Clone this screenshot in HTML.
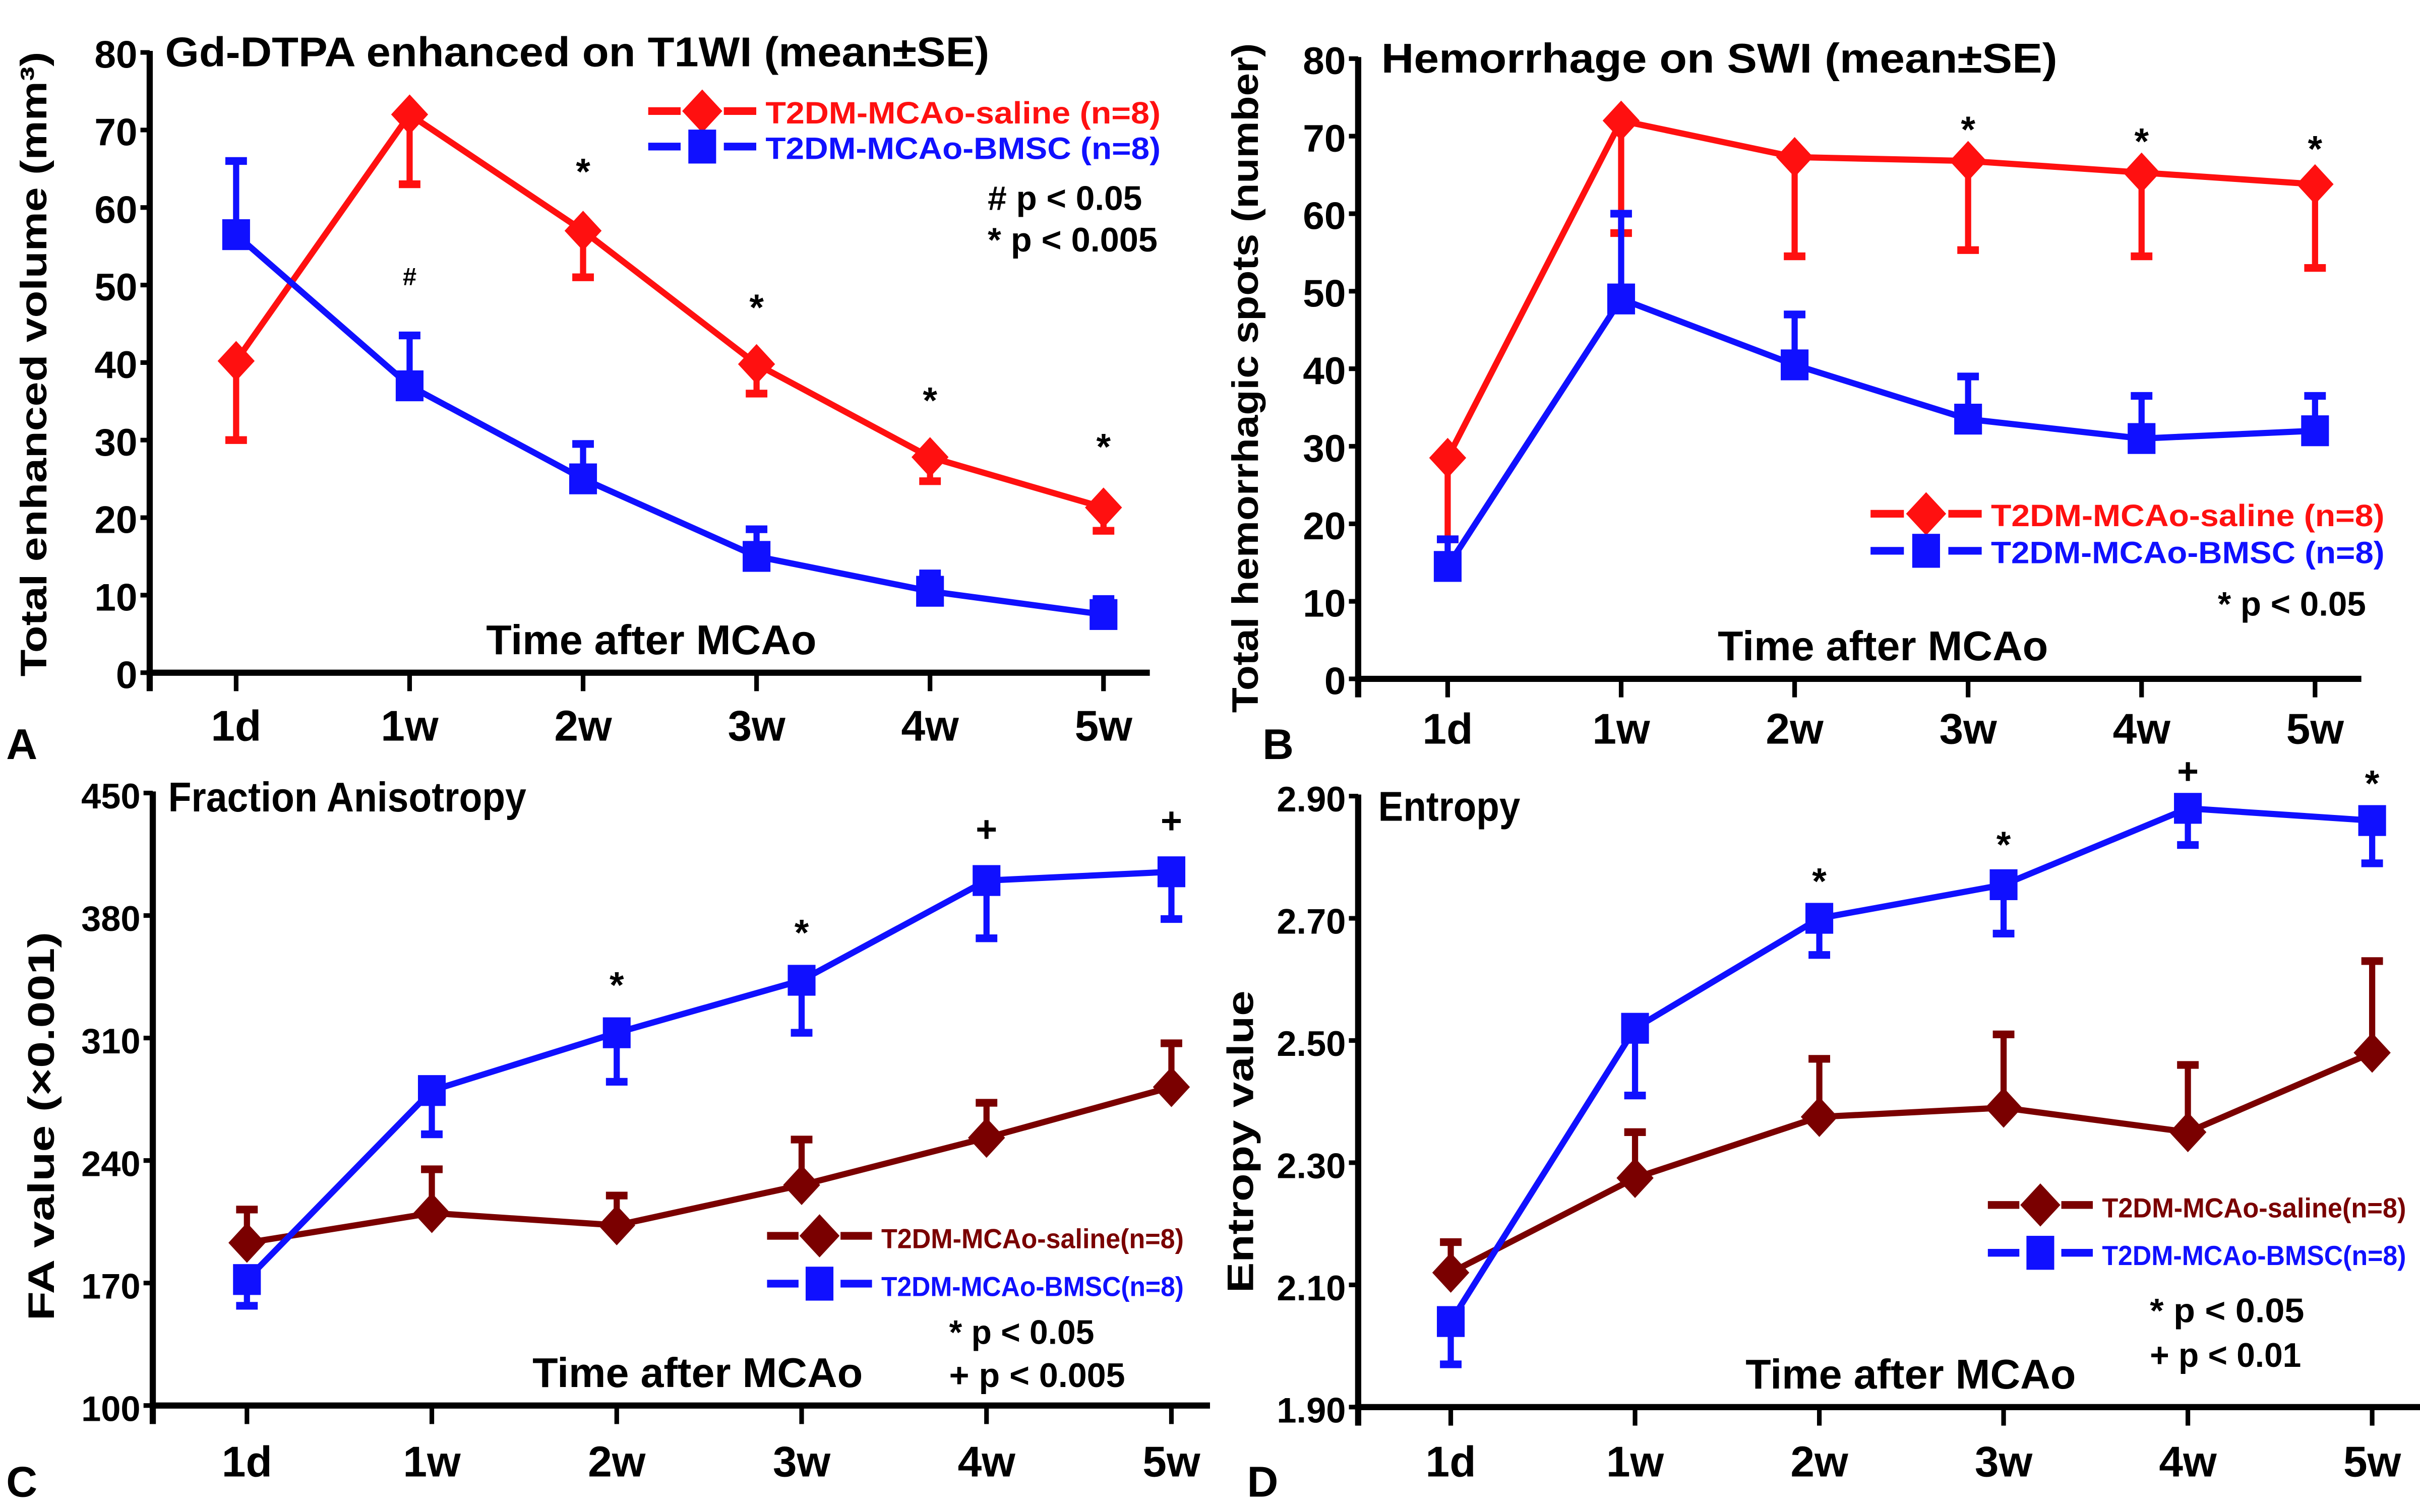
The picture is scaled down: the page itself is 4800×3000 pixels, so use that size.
<!DOCTYPE html>
<html><head><meta charset="utf-8"><style>
html,body{margin:0;padding:0;background:#fff}
svg{display:block}
text{font-family:"Liberation Sans Narrow","Liberation Sans",sans-serif;font-weight:bold}
.w{font-family:"Liberation Sans",sans-serif;font-weight:bold}
</style></head><body>
<svg id="fig" width="4800" height="3000" viewBox="0 0 1568 980" xmlns="http://www.w3.org/2000/svg">
<rect width="1568" height="980" fill="#fff"/>
</svg>
<script>
// ---- data ----
const categories = ["1d","1w","2w","3w","4w","5w"];
// Panel A
const aSaline = [40.2,72,57,39.8,27.8,21.3];
const aSalineErr = [10.2,9,6,3.8,3.1,3];
const aBmsc = [56.5,37,25,15,10.5,7.5];
const aBmscErr = [9.5,6.5,4.5,3.5,2.3,2];
const aTicks = [0,10,20,30,40,50,60,70,80];
const aMarks = ["","#","*","*","*","*"];
// Panel B
const bSaline = [28.5,72,67.3,66.8,65.3,63.8];
const bSalineErr = [10.5,14.5,12.8,11.5,10.8,10.8];
const bBmsc = [14.5,49,40.5,33.5,31,32];
const bBmscErr = [3.5,11,6.5,5.5,5.5,4.5];
const bTicks = [0,10,20,30,40,50,60,70,80];
const bMarks = ["","","","*","*","*"];
// Panel C
const cSaline = [193,210,203,226,253,282];
const cSalineErr = [19,25,17,26,20,25];
const cBmsc = [172,280,313,343,400,405];
const cBmscErr = [15,25,28,30,33,27];
const cTicks = [100,170,240,310,380,450];
const cMarks = ["","","*","*","+","+"];
// Panel D
const dSaline = [2.12,2.275,2.375,2.39,2.35,2.48];
const dSalineErr = [0.05,0.075,0.095,0.12,0.11,0.15];
const dBmsc = [2.04,2.52,2.70,2.755,2.88,2.86];
const dBmscErr = [0.07,0.11,0.06,0.08,0.06,0.07];
const dTicks = [1.90,2.10,2.30,2.50,2.70,2.90];
const dMarks = ["","","*","*","+","*"];

const NS="http://www.w3.org/2000/svg";
const svg=document.getElementById('fig');
function mk(tag,attrs,parent,txt){const e=document.createElementNS(NS,tag);for(const k in attrs)e.setAttribute(k,attrs[k]);if(txt!==undefined)e.textContent=txt;(parent||svg).appendChild(e);return e;}
function fit(e,len){if(len){e.setAttribute('textLength',len);e.setAttribute('lengthAdjust','spacingAndGlyphs');}}

function panel(cfg){
  const g=mk('g',{});
  
  
  const y=v=>cfg.yBot-(v-cfg.ymin)/(cfg.ymax-cfg.ymin)*(cfg.yBot-cfg.yTop);
  const x=i=>cfg.cx0+i*cfg.step;
  const ya=mk('line',{x1:cfg.x0,y1:cfg.yTop-1,x2:cfg.x0,y2:cfg.yBot+12,stroke:'#000','stroke-width':4},g);
  
  
  const xa=mk('line',{x1:cfg.x0-2,y1:cfg.yBot,x2:cfg.xEnd,y2:cfg.yBot,stroke:'#000','stroke-width':4},g);
  
  
  cfg.ticks.forEach(t=>{
    mk('line',{x1:cfg.x0-6,y1:y(t),x2:cfg.x0,y2:y(t),stroke:'#000','stroke-width':3},g);
    const lb=mk('text',{x:cfg.x0-8,y:y(t)+10,'text-anchor':'end','font-size':cfg.tickFs},g,cfg.fmt(t));
    
    
  });
  categories.forEach((c,i)=>{
    mk('line',{x1:x(i),y1:cfg.yBot,x2:x(i),y2:cfg.yBot+12,stroke:'#000','stroke-width':3},g);
    const lb=mk('text',{x:x(i),y:cfg.xlabY,'text-anchor':'middle','font-size':28},g,c);
    
    
  });
  cfg.series.forEach(s=>{
    const sg=mk('g',{},g);
    
    
    s.vals.forEach((v,i)=>{
      const ye=y(v+s.dir*s.err[i]);
      mk('line',{x1:x(i),y1:y(v),x2:x(i),y2:ye,stroke:s.color,'stroke-width':4},sg);
      mk('line',{x1:x(i)-7,y1:ye,x2:x(i)+7,y2:ye,stroke:s.color,'stroke-width':5},sg);
    });
    const pl=mk('polyline',{points:s.vals.map((v,i)=>x(i)+','+y(v)).join(' '),fill:'none',stroke:s.color,'stroke-width':4},sg);
    
    
    s.vals.forEach((v,i)=>{
      let m;
      if(s.shape==='d'){const r=13;m=mk('polygon',{points:`${x(i)},${y(v)-r} ${x(i)+r-1},${y(v)} ${x(i)},${y(v)+r} ${x(i)-r+1},${y(v)}`,fill:s.color},sg);}
      else m=mk('rect',{x:x(i)-9,y:y(v)-10,width:18,height:20,fill:s.color},sg);
      
      
    });
  });
  cfg.marks.forEach((mm,i)=>{
    if(!mm)return;
    const base=cfg.markRef[i];
    const t=mk('text',{x:x(i),y:y(base)+cfg.markOff,'text-anchor':'middle','font-size':mm==='#'?16:24},g,mm);
    
    
  });
  const tt=mk('text',{x:cfg.title[1],y:cfg.title[2],'font-size':cfg.title[3]},g,cfg.title[0]);
  fit(tt,cfg.title[4]);
  
  
  const yt=mk('text',{class:'w',transform:`translate(${cfg.ytitle[1]},${cfg.ytitle[2]}) rotate(-90)`,'text-anchor':'middle','font-size':cfg.ytitle[3]},g,cfg.ytitle[0]);
  fit(yt,cfg.ytitle[4]);
  
  
  const xt=mk('text',{x:cfg.xtitle[0],y:cfg.xtitle[1],'text-anchor':'middle','font-size':27},g,'Time after MCAo');
  fit(xt,214);
  
  
  const pl=mk('text',{class:'w',x:cfg.letter[1],y:cfg.letter[2],'font-size':28},g,cfg.letter[0]);
  
  
  cfg.legend.forEach((L,k)=>{
    const lg=mk('g',{},g);
    
    
    const s=cfg.series[k];
    mk('line',{x1:L[0],y1:L[1],x2:L[0]+cfg.legW,y2:L[1],stroke:s.color,'stroke-width':5,'stroke-dasharray':`${cfg.legW*0.3} ${cfg.legW*0.4} ${cfg.legW*0.3}`},lg);
    const cx=L[0]+cfg.legW/2;
    if(s.shape==='d')mk('polygon',{points:`${cx},${L[1]-14} ${cx+13},${L[1]} ${cx},${L[1]+14} ${cx-13},${L[1]}`,fill:s.color},lg);
    else mk('rect',{x:cx-9,y:L[1]-11,width:18,height:22,fill:s.color},lg);
    const lt=mk('text',{x:L[0]+cfg.legW+6,y:L[1]+8,'font-size':cfg.legFs,fill:s.color},lg,s.label);
    fit(lt,cfg.legLen);
  });
  cfg.pnotes.forEach(p=>{
    const t=mk('text',{x:p[1],y:p[2],'font-size':22},g,p[0]);
    fit(t,p[3]);
    
    
  });
}
const RED='#ff1010',BLUE='#1010ff',DRED='#7a0000';
panel({name:'panel-a',x0:97,yTop:34,yBot:436,ymin:0,ymax:80,xEnd:745,cx0:153,step:112.4,ticks:aTicks,tickFs:25,fmt:t=>String(t),xlabY:480,
  series:[{name:'saline-series',vals:aSaline,err:aSalineErr,dir:-1,color:RED,shape:'d',label:'T2DM-MCAo-saline (n=8)'},
          {name:'bmsc-series',vals:aBmsc,err:aBmscErr,dir:1,color:BLUE,shape:'s',label:'T2DM-MCAo-BMSC (n=8)'}],
  marks:aMarks,markRef:[0,50,63,45.5,33.5,27.5],markOff:0,
  title:['Gd-DTPA enhanced on T1WI (mean\u00b1SE)',107,43,27,534],ytitle:['Total enhanced volume (mm\u00b3)',30,236,24,405],xtitle:[422,424],letter:['A',4,492],
  legend:[[420,72],[420,95]],legW:70,legFs:20,legLen:256,pnotes:[['# p < 0.05',640,136,100],['* p < 0.005',640,163,110]]});
panel({name:'panel-b',x0:880,yTop:38,yBot:440,ymin:0,ymax:80,xEnd:1530,cx0:938,step:112.4,ticks:bTicks,tickFs:25,fmt:t=>String(t),xlabY:482,
  series:[{name:'saline-series',vals:bSaline,err:bSalineErr,dir:-1,color:RED,shape:'d',label:'T2DM-MCAo-saline (n=8)'},
          {name:'bmsc-series',vals:bBmsc,err:bBmscErr,dir:1,color:BLUE,shape:'s',label:'T2DM-MCAo-BMSC (n=8)'}],
  marks:bMarks,markRef:[0,0,0,72,70.5,69.5],markOff:14,
  title:['Hemorrhage on SWI  (mean\u00b1SE)',895,47,27,438],ytitle:['Total hemorrhagic spots (number)',815,245,24,434],xtitle:[1220,428],letter:['B',818,492],
  legend:[[1212,333],[1212,357]],legW:72,legFs:20,legLen:255,pnotes:[['* p < 0.05',1437,399,96]]});
panel({name:'panel-c',x0:99,yTop:514,yBot:911,ymin:100,ymax:450,xEnd:784,cx0:160,step:119.8,ticks:cTicks,tickFs:23,fmt:t=>String(t),xlabY:957,
  series:[{name:'saline-series',vals:cSaline,err:cSalineErr,dir:1,color:DRED,shape:'d',label:'T2DM-MCAo-saline(n=8)'},
          {name:'bmsc-series',vals:cBmsc,err:cBmscErr,dir:-1,color:BLUE,shape:'s',label:'T2DM-MCAo-BMSC(n=8)'}],
  marks:cMarks,markRef:[0,0,333,363,422,427],markOff:0,
  title:['Fraction Anisotropy',109,526,27,232],ytitle:['FA value (\u00d70.001)',35,730,24,252],xtitle:[452,899],letter:['C',4,970],
  legend:[[497,801],[497,832]],legW:68,legFs:18,legLen:196,pnotes:[['* p < 0.05',615,871,94],['+ p < 0.005',615,899,114]]});
panel({name:'panel-d',x0:880,yTop:516,yBot:912,ymin:1.90,ymax:2.90,xEnd:1568,cx0:940,step:119.4,ticks:dTicks,tickFs:23,fmt:t=>t.toFixed(2),xlabY:957,
  series:[{name:'saline-series',vals:dSaline,err:dSalineErr,dir:1,color:DRED,shape:'d',label:'T2DM-MCAo-saline(n=8)'},
          {name:'bmsc-series',vals:dBmsc,err:dBmscErr,dir:-1,color:BLUE,shape:'s',label:'T2DM-MCAo-BMSC(n=8)'}],
  marks:dMarks,markRef:[0,0,2.74,2.80,2.92,2.90],markOff:0,
  title:['Entropy',893,532,27,92],ytitle:['Entropy value',812,740,24,196],xtitle:[1238,900],letter:['D',808,970],
  legend:[[1288,781],[1288,812]],legW:68,legFs:18,legLen:197,pnotes:[['* p < 0.05',1393,857,100],['+ p < 0.01',1393,886,98]]});
</script>
</body></html>
